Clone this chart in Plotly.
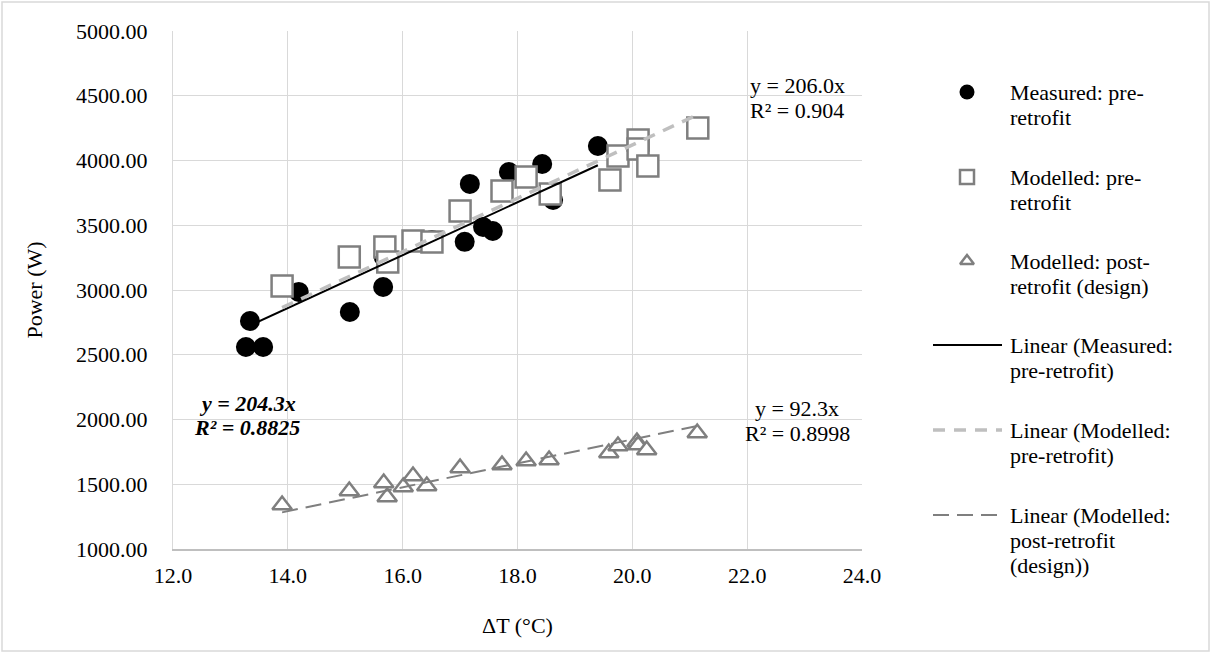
import plotly.graph_objects as go

# ΔT (°C) and heating power (W) for each series
measured_dt = [13.34, 13.27, 13.57, 14.19, 15.08, 15.66, 15.67, 16.51, 17.08,
               17.17, 17.40, 17.57, 17.85, 18.43, 18.62, 19.40]
measured_pw = [2761, 2560, 2560, 2985, 2830, 3023, 3255, 3386, 3372,
               3819, 3487, 3456, 3911, 3973, 3695, 4112]

model_pre_dt = [13.90, 15.07, 15.69, 15.74, 16.18, 16.51, 17.00, 17.73, 18.15,
                18.57, 19.61, 19.75, 20.10, 20.10, 20.27, 21.14]
model_pre_pw = [3031, 3255, 3332, 3216, 3378, 3371, 3610, 3764, 3873,
                3741, 3849, 4035, 4158, 4089, 3958, 4251]

model_post_dt = [13.90, 15.07, 15.67, 15.73, 16.01, 16.18, 16.42, 17.00, 17.73,
                 18.15, 18.55, 19.59, 19.75, 20.08, 20.10, 20.25, 21.13]
model_post_pw = [1340, 1448, 1510, 1402, 1479, 1564, 1487, 1625, 1649,
                 1680, 1687, 1741, 1795, 1826, 1803, 1764, 1896]

# Linear trendlines through the origin
slope_measured, r2_measured = 204.3, 0.8825
slope_pre, r2_pre = 206.0, 0.904
slope_post, r2_post = 92.3, 0.8998

x_ticks = [12.0, 14.0, 16.0, 18.0, 20.0, 22.0, 24.0]
y_ticks = [1000, 1500, 2000, 2500, 3000, 3500, 4000, 4500, 5000]

legend_labels = [
    ["Measured: pre-", "retrofit"],
    ["Modelled: pre-", "retrofit"],
    ["Modelled: post-", "retrofit (design)"],
    ["Linear (Measured:", "pre-retrofit)"],
    ["Linear (Modelled:", "pre-retrofit)"],
    ["Linear (Modelled:", "post-retrofit", "(design))"],
]

FONT = "Liberation Serif"
FS = 22
GREY = "#7f7f7f"
LIGHT = "#bfbfbf"


def trend(xs, slope):
    lo, hi = min(xs), max(xs)
    return [lo, hi], [slope * lo, slope * hi]


fig = go.Figure()

fig.add_trace(go.Scatter(x=measured_dt, y=measured_pw, mode="markers",
                         marker=dict(symbol="circle", size=20, color="black"),
                         cliponaxis=False))
fig.add_trace(go.Scatter(x=model_pre_dt, y=model_pre_pw, mode="markers",
                         marker=dict(symbol="square", size=21, color="white",
                                     line=dict(color=GREY, width=2.5)),
                         cliponaxis=False))
fig.add_trace(go.Scatter(x=model_post_dt, y=model_post_pw, mode="markers",
                         marker=dict(symbol="triangle-up", size=17, color="white",
                                     line=dict(color=GREY, width=2.5)),
                         cliponaxis=False))

tx, ty = trend(measured_dt, slope_measured)
fig.add_trace(go.Scatter(x=tx, y=ty, mode="lines", line=dict(color="black", width=2)))
tx, ty = trend(model_pre_dt, slope_pre)
fig.add_trace(go.Scatter(x=tx, y=ty, mode="lines",
                         line=dict(color=LIGHT, width=3.5, dash="12px,9px")))
tx, ty = trend(model_post_dt, slope_post)
fig.add_trace(go.Scatter(x=tx, y=ty, mode="lines",
                         line=dict(color=GREY, width=2, dash="16px,8px")))

# Page geometry (pixels) and helpers converting pixel positions to paper units
L, R, T, B, W, H = 173, 8, 31, 104, 1212, 653
pw = W - L - R
ph = H - T - B
split = (862 - L) / pw


def px(x):
    return (x - L) / pw


def py(y):
    return (H - B - y) / ph


# Legend panel drawn on a hidden pixel-scaled axis to the right of the plot
row_y = [92, 177, 261, 345, 430, 515]
line_gap = 25
sym_x = 967

fig.add_trace(go.Scatter(x=[sym_x], y=[row_y[0]], xaxis="x2", yaxis="y2", mode="markers",
                         marker=dict(symbol="circle", size=15, color="black")))
fig.add_trace(go.Scatter(x=[sym_x], y=[row_y[1]], xaxis="x2", yaxis="y2", mode="markers",
                         marker=dict(symbol="square", size=14, color="white",
                                     line=dict(color=GREY, width=2.5))))
fig.add_trace(go.Scatter(x=[sym_x], y=[row_y[2]], xaxis="x2", yaxis="y2", mode="markers",
                         marker=dict(symbol="triangle-up", size=12, color="white",
                                     line=dict(color=GREY, width=2.5))))
fig.add_trace(go.Scatter(x=[933, 1002], y=[row_y[3]] * 2, xaxis="x2", yaxis="y2", mode="lines",
                         line=dict(color="black", width=2)))
fig.add_trace(go.Scatter(x=[933, 1002], y=[row_y[4]] * 2, xaxis="x2", yaxis="y2", mode="lines",
                         line=dict(color=LIGHT, width=3.5, dash="12px,9px")))
fig.add_trace(go.Scatter(x=[933, 1002], y=[row_y[5]] * 2, xaxis="x2", yaxis="y2", mode="lines",
                         line=dict(color=GREY, width=2, dash="16px,8px")))

annotations = []
for yc, lines in zip(row_y, legend_labels):
    for i, txt in enumerate(lines):
        annotations.append(dict(x=px(1008), y=py(yc + i * line_gap), xref="paper", yref="paper",
                                text=txt, showarrow=False, xanchor="left", yanchor="middle",
                                font=dict(family=FONT, size=FS, color="black")))


def eq_label(xc, y1, y2, eq, r2, style=""):
    o, c = ("<b><i>", "</i></b>") if style else ("", "")
    for yy, txt in ((y1, eq), (y2, r2)):
        annotations.append(dict(x=px(xc), y=py(yy), xref="paper", yref="paper",
                                text=o + txt + c, showarrow=False,
                                xanchor="center", yanchor="middle",
                                font=dict(family=FONT, size=FS, color="black")))


eq_label(797, 85, 110, f"y = {slope_pre:.1f}x", f"R² = {r2_pre}")
eq_label(797, 408, 433, f"y = {slope_post:.1f}x", f"R² = {r2_post}")
eq_label(247, 403, 427, f"y = {slope_measured:.1f}x", f"R² = {r2_measured}", style="bi")

fig.update_layout(
    width=W, height=H, autosize=False,
    margin=dict(l=L, r=R, t=T, b=B, autoexpand=False),
    paper_bgcolor="white", plot_bgcolor="white",
    showlegend=False,
    font=dict(family=FONT, size=FS, color="black"),
    annotations=annotations,
    xaxis=dict(domain=[0, split], range=[12, 24], tickvals=x_ticks, tickformat=".1f",
               showgrid=True, gridcolor="#d9d9d9", gridwidth=1.3, zeroline=False,
               showline=True, linecolor=LIGHT, linewidth=1.5, ticks="",
               ticklabelstandoff=6, automargin=False,
               title=dict(text="ΔT (°C)", standoff=30,
                          font=dict(family=FONT, size=FS, color="black"))),
    yaxis=dict(range=[1000, 5000], tickvals=y_ticks, tickformat=".2f",
               showgrid=True, gridcolor="#d9d9d9", gridwidth=1.3, zeroline=False,
               showline=True, linecolor="#d9d9d9", linewidth=1.3, ticks="",
               ticklabelstandoff=20, automargin=False,
               title=dict(text="Power (W)", standoff=27,
                          font=dict(family=FONT, size=FS, color="black"))),
    xaxis2=dict(domain=[split, 1], range=[862, 862 + pw * (1 - split)], anchor="y2",
                visible=False, fixedrange=True, automargin=False),
    yaxis2=dict(domain=[0, 1], range=[549, 31], anchor="x2", visible=False,
                fixedrange=True, automargin=False),
    shapes=[dict(type="rect", xref="paper", yref="paper",
                 x0=px(2), x1=px(1209), y0=py(651), y1=py(2),
                 line=dict(color="#d9d9d9", width=1.5), fillcolor="rgba(0,0,0,0)",
                 layer="below")],
)

fig.write_html("out.html", config={"responsive": False})
